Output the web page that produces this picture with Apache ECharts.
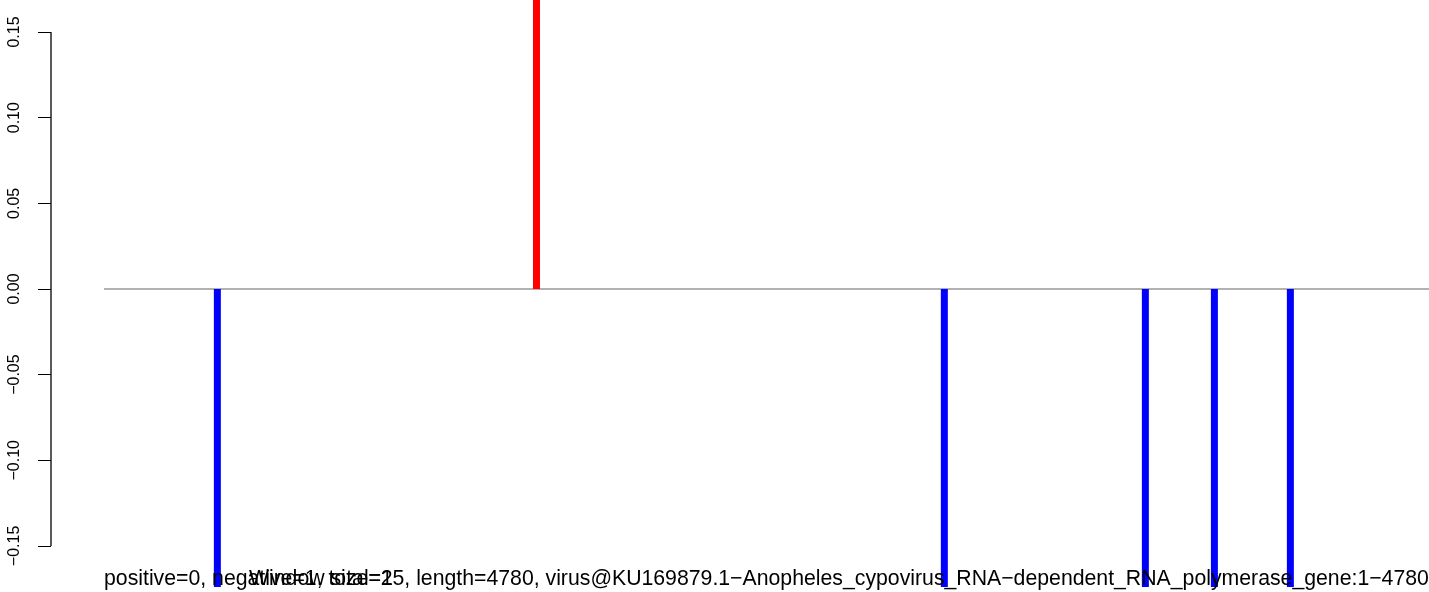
<!DOCTYPE html>
<html>
<head>
<meta charset="utf-8">
<script src="https://cdn.jsdelivr.net/npm/echarts@6/dist/echarts.min.js"></script>
<style>
html,body{margin:0;padding:0;background:#fff;}
#chart{width:1429px;height:592px;}
</style>
</head>
<body>
<div id="chart"></div>
<script>
// Data
var positivePositions = [1561];
var positiveValues = [0.174];
var negativePositions = [410, 3032, 3757, 4006, 4280];
var negativeValues = [-0.174, -0.174, -0.174, -0.174, -0.174];
var seqLength = 4780;
var yTickValues = [-0.15, -0.10, -0.05, 0.00, 0.05, 0.10, 0.15];
var yTickLabels = ['\u22120.15', '\u22120.10', '\u22120.05', '0.00', '0.05', '0.10', '0.15'];
var bottomLeftText = 'positive=0, negative=1, total=1';
var bottomText = 'Window size=25, length=4780, virus@KU169879.1\u2212Anopheles_cypovirus_RNA\u2212dependent_RNA_polymerase_gene:1\u22124780';

var FONT = 'Liberation Sans, Arial, Helvetica, sans-serif';
var xMin = -190;

function pairs(xs, ys) { return xs.map(function (x, i) { return [x, ys[i]]; }); }

var chart = echarts.init(document.getElementById('chart'), null, {renderer: 'canvas'});
chart.setOption({
  animation: false,
  backgroundColor: '#ffffff',
  title: [
    {text: bottomLeftText, left: 104, top: 569, padding: 0,
     textStyle: {fontFamily: FONT, fontSize: 21.25, fontWeight: 'normal', color: '#000'}},
    {text: bottomText, left: 249, top: 569, padding: 0,
     textStyle: {fontFamily: FONT, fontSize: 21.25, fontWeight: 'normal', color: '#000'}}
  ],
  grid: {left: 51, right: -1, top: 0, bottom: 5, containLabel: false},
  xAxis: {type: 'value', min: xMin, max: seqLength, show: false},
  yAxis: {
    type: 'value', min: -0.174, max: 0.1687, position: 'left',
    axisLine: {show: false, onZero: false},
    splitLine: {show: false},
    axisTick: {show: true, length: 13, inside: false, customValues: yTickValues,
               lineStyle: {color: '#000', width: 1}},
    axisLabel: {
      show: true, customValues: yTickValues, rotate: 90, margin: 36,
      fontFamily: FONT, fontSize: 16, color: '#000',
      align: 'center', verticalAlign: 'middle',
      formatter: function (v) {
        for (var i = 0; i < yTickValues.length; i++) {
          if (Math.abs(yTickValues[i] - v) < 1e-9) return yTickLabels[i];
        }
        return '';
      }
    }
  },
  series: [
    {type: 'line', data: [[1, 0], [seqLength, 0]], symbol: 'none',
     lineStyle: {color: '#999999', width: 1.5}, z: 1, silent: true},
    {type: 'bar', data: pairs(positivePositions, positiveValues), barWidth: 7, barGap: '-100%',
     itemStyle: {color: '#FF0000'}, clip: true, z: 2},
    {type: 'bar', data: pairs(negativePositions, negativeValues), barWidth: 7, barGap: '-100%',
     itemStyle: {color: '#0000FF'}, clip: true, z: 2},
    {type: 'line', data: [[xMin, yTickValues[0]], [xMin, yTickValues[yTickValues.length - 1]]],
     symbol: 'none', clip: false, lineStyle: {color: '#000', width: 1.3}, z: 3, silent: true}
  ]
});
</script>
</body>
</html>
